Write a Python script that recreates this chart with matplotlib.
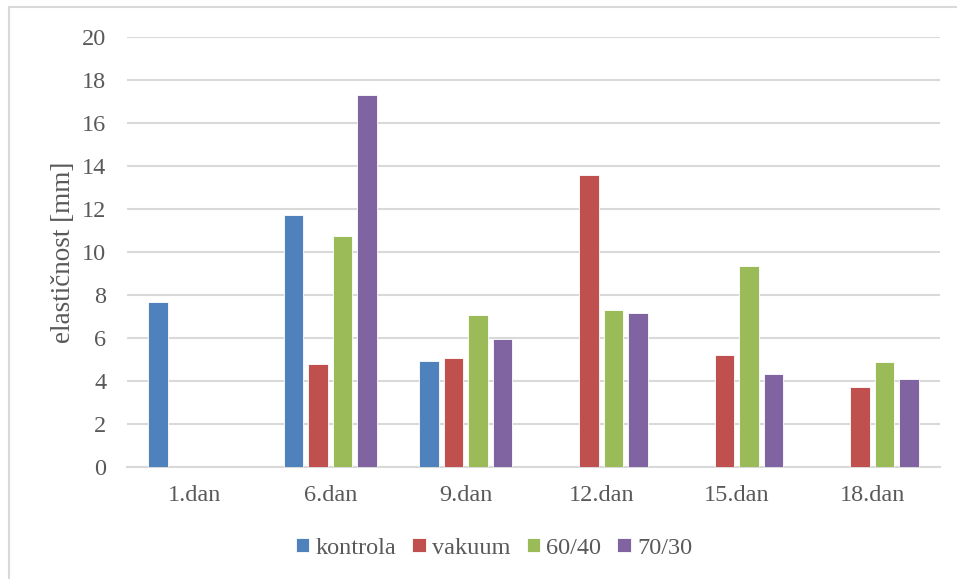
import matplotlib
matplotlib.use("Agg")
import matplotlib.pyplot as plt
import matplotlib.patches as mpatches
import numpy as np

categories = ["1.dan", "6.dan", "9.dan", "12.dan", "15.dan", "18.dan"]
series_names = ["kontrola", "vakuum", "60/40", "70/30"]
kontrola = [7.66, 11.72, 4.92, 0, 0, 0]
vakuum = [0, 4.79, 5.07, 13.58, 5.22, 3.73]
s60_40 = [0, 10.74, 7.08, 7.32, 9.36, 4.89]
s70_30 = [0, 17.32, 5.97, 7.18, 4.34, 4.07]
colors = ["#4F81BD", "#C0504D", "#9BBB59", "#8064A2"]
yticks = [0, 2, 4, 6, 8, 10, 12, 14, 16, 18, 20]

plt.rcParams['font.family'] = ['Liberation Serif', 'DejaVu Serif']
txt = "#595959"
grid = "#D9D9D9"

fig = plt.figure(figsize=(9.57, 5.79), dpi=100)
ax = fig.add_axes([127/957, 1-467/579, (940-127)/957, (467-37)/579])

x = np.arange(len(categories))
step = 0.18
width = 0.143
data = [kontrola, vakuum, s60_40, s70_30]
handles = []
for i, (vals, c, name) in enumerate(zip(data, colors, series_names)):
    b = ax.bar(x + (i - 1.5) * step, vals, width, color=c, edgecolor="white",
               linewidth=0.6, label=name, zorder=3)
    handles.append(b)

ax.set_xlim(-0.5, len(categories) - 0.5)
ax.set_ylim(0, 20)
ax.set_yticks(yticks)
ax.set_yticklabels([str(t) for t in yticks])
ax.set_xticks(x)
ax.set_xticklabels(categories)
ax.yaxis.grid(True, color=grid, linewidth=1.5, zorder=0)
ax.set_axisbelow(True)
for s in ["top", "right", "left"]:
    ax.spines[s].set_visible(False)
ax.spines["bottom"].set_color(grid)
ax.spines["bottom"].set_linewidth(1.5)
ax.tick_params(axis="both", length=0, colors=txt, labelsize=17.5)
ax.tick_params(axis="y", pad=15)
ax.tick_params(axis="x", pad=13)
ax.set_ylabel("elastičnost [mm]", fontsize=19.5, color=txt, labelpad=4)

leg = fig.legend(handles=handles, labels=series_names, loc="center",
                 bbox_to_anchor=(494/957, 1-548/579), ncol=4, frameon=False,
                 fontsize=17.5, handlelength=0.55, handleheight=0.55,
                 handletextpad=0.25, columnspacing=0.67, labelcolor=txt)

border = mpatches.Rectangle((9.3/957, -0.1), 1.2, (1-7.3/579)+0.1,
                            transform=fig.transFigure, fill=False,
                            edgecolor=grid, linewidth=1.5)
fig.patches.append(border)

fig.savefig("out.png", dpi=100)
